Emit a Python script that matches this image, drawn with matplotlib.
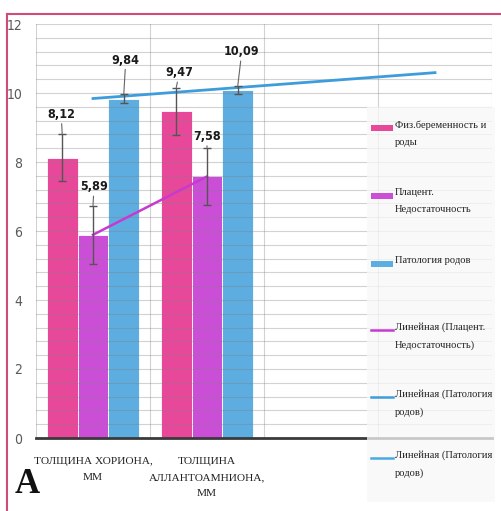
import numpy as np
import matplotlib
matplotlib.use("Agg")
from matplotlib import pyplot as plt
from matplotlib import font_manager
from matplotlib.patches import Rectangle
from matplotlib.lines import Line2D

# data
categories = ["ТОЛЩИНА ХОРИОНА,\nММ", "ТОЛЩИНА\nАЛЛАНТОАМНИОНА,\nММ", "", ""]
series = ["Физ.беременность и\nроды", "Плацент.\nНедостаточность", "Патология родов"]
fiz = [8.12, 9.47]
placent = [5.89, 7.58]
patol = [9.84, 10.09]
fiz_err = [0.68, 0.68]
placent_err = [0.84, 0.84]
patol_err = [0.13, 0.12]
trend_labels = ["Линейная (Плацент.\nНедостаточность)",
                "Линейная (Патология\nродов)",
                "Линейная (Патология\nродов)"]

W, H = 502, 511
PINK = "#e8489a"
PURPLE = "#cb4fd6"
BLUE = "#5eade0"
TREND_PURPLE = "#c63ad0"
TREND_BLUE = "#3f9cdb"
SERIF = ["Liberation Serif", "DejaVu Serif"]

# a narrow sans for numbers, if one is there
names = {f.name for f in font_manager.fontManager.ttflist}
NUM = dict(family="Liberation Sans Narrow") if "Liberation Sans Narrow" in names else \
    dict(family="DejaVu Sans", fontstretch="condensed")

fig = plt.figure(figsize=(W / 100, H / 100), dpi=100)
ax = fig.add_axes([36 / W, 1 - 438 / H, 456 / W, 414 / H])

x = np.arange(2)
bw = 0.27
vals = [fiz, placent, patol]
errs = [fiz_err, placent_err, patol_err]
cols = [PINK, PURPLE, BLUE]
offs = [-bw, 0, bw]
for v, e, c, o in zip(vals, errs, cols, offs):
    ax.bar(x + o, v, bw, color=c, edgecolor="white", linewidth=0.6, zorder=2)
    ax.errorbar(x + o, v, yerr=e, fmt="none", ecolor="#555555", elinewidth=1,
                capsize=3, capthick=1, zorder=5)

# value labels with leader lines (offsets in pixels from the error bar top)
label_offsets = [[(-1, 20), (3, 15)], [(1, 19), (0, 11)], [(2, 34), (4, 34)]]
for v, e, o, offl in zip(vals, errs, offs, label_offsets):
    for i in range(2):
        ax.annotate(f"{v[i]:.2f}".replace(".", ","), xy=(x[i] + o, v[i] + e[i]),
                    xytext=offl[i], textcoords="offset pixels",
                    ha="center", va="center", fontsize=9, fontweight="bold",
                    color="#1a1a1a", zorder=6, **NUM,
                    arrowprops=dict(arrowstyle="-", color="#666666", lw=0.8,
                                    shrinkA=0, shrinkB=0))

# linear trend lines
kp = np.polyfit(x, placent, 1)
xp = np.array([0, 1])
ax.plot(xp, np.polyval(kp, xp), color=TREND_PURPLE, lw=1.8, zorder=4)
kb = np.polyfit(x, patol, 1)
xb = np.array([0, 3])
ax.plot(xb, np.polyval(kb, xb), color=TREND_BLUE, lw=2.0, zorder=4)

ax.set_xlim(-0.5, 3.5)
ax.set_ylim(0, 12)
ax.set_yticks(range(0, 13, 2))
ax.set_yticklabels([str(t) for t in range(0, 13, 2)], fontsize=10,
                   color="#595959", **NUM)
ax.set_xticks(range(4))
ax.set_xticklabels(categories, family=SERIF, fontsize=8.2, color="#222222",
                   linespacing=2.0)
ax.tick_params(length=0)
ax.tick_params(axis="y", pad=10)
ax.tick_params(axis="x", pad=14)

for yy in np.arange(0.4, 12.01, 0.4):
    ax.axhline(yy, color="#808080", alpha=0.35, lw=0.8, zorder=3)
for xx in [-0.5, 0.5, 1.5, 2.5, 3.5]:
    ax.axvline(xx, color="#808080", alpha=0.35, lw=0.8, zorder=3)

for s in ["top", "right", "left"]:
    ax.spines[s].set_visible(False)
ax.spines["bottom"].set_color("#3a3a3a")
ax.spines["bottom"].set_linewidth(2)
ax.spines["bottom"].set_zorder(6)


def fx(px):
    return px / W


def fy(py):
    return 1 - py / H


# legend panel drawn by hand, Excel-like spacing
fig.add_artist(Rectangle((fx(367), fy(502)), fx(128), 395 / H,
                         transform=fig.transFigure, facecolor="#f8f8f8",
                         alpha=0.75, edgecolor="none", zorder=2))
leg_y = [128, 196, 264, 330, 397, 458]
handles = [("patch", PINK), ("patch", PURPLE), ("patch", BLUE),
           ("line", TREND_PURPLE), ("line", TREND_BLUE), ("line", "#4aa8e3")]
for (kind, c), lab, yy in zip(handles, series + trend_labels, leg_y):
    if kind == "patch":
        fig.add_artist(Rectangle((fx(371), fy(yy + 3)), fx(22), 6 / H,
                                 transform=fig.transFigure, facecolor=c,
                                 edgecolor="none", zorder=3))
    else:
        fig.add_artist(Line2D([fx(371), fx(393)], [fy(yy), fy(yy)],
                              transform=fig.transFigure, color=c, lw=1.8, zorder=3))
    fig.text(fx(395), fy(yy - 8), lab, ha="left", va="top", fontsize=7.6,
             family=SERIF, color="#222222", linespacing=2.2, zorder=4)

# red frame
fig.add_artist(Line2D([fx(7), fx(502)], [fy(14), fy(14)], transform=fig.transFigure,
                      color="#d24a78", lw=1.5, zorder=5))
fig.add_artist(Line2D([fx(7), fx(7)], [fy(14), fy(511)], transform=fig.transFigure,
                      color="#d24a78", lw=1.5, zorder=5))

fig.text(fx(15), fy(493), "A", ha="left", va="baseline", fontsize=25,
         fontweight="bold", family=SERIF, color="#111111")

fig.savefig("out.png", dpi=100)
